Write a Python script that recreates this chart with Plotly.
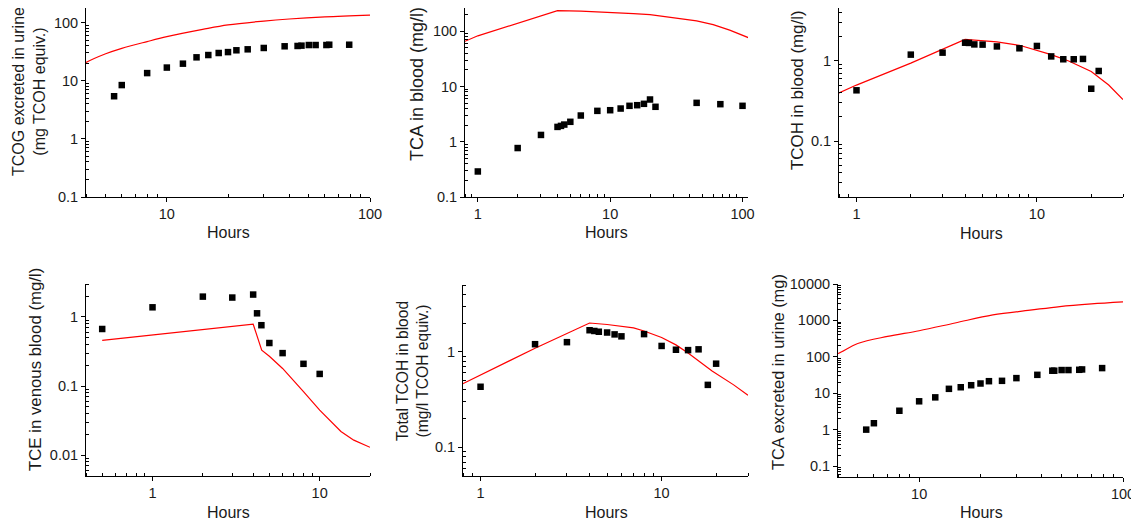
import numpy as np
import plotly.graph_objects as go
from plotly.subplots import make_subplots

# --- measured data (black squares) and model curves (red lines) ---
tcog_t = [5.5, 6, 8, 10, 12, 14, 16, 18, 20, 22, 25, 30, 38, 44, 46, 50, 54, 61, 63, 79]
tcog_obs = [5.4, 8.4, 13.5, 16.8, 19.6, 25.2, 27.6, 29.9, 31, 33.3, 34.6, 36.5, 39, 39.5, 40, 41, 41, 41, 41.5, 41.5]
tcog_mt = [3.5, 4, 5, 6, 8, 10, 15, 20, 30, 40, 60, 100]
tcog_mod = [15, 20.5, 29, 36, 47, 57, 76, 91, 106, 115, 125, 134]

tcab_t = [1, 2, 3, 4, 4.25, 4.5, 5, 6, 8, 10, 12, 14, 16, 18, 20, 22, 45, 68, 100]
tcab_obs = [0.29, 0.77, 1.33, 1.86, 1.94, 2.05, 2.3, 2.99, 3.63, 3.73, 4.0, 4.48, 4.6, 4.87, 5.83, 4.3, 5.07, 4.8, 4.48]
tcab_mt = [0.5, 0.8, 1, 2, 4, 6, 10, 15, 20, 30, 45, 60, 80, 112]
tcab_mod = [45, 66, 83, 140, 237, 232, 221, 210, 200, 178, 155, 132, 105, 76]

tcoh_t = [1, 2, 3, 4, 4.2, 4.5, 5, 6, 8, 10, 12, 14, 16, 18, 20, 22]
tcoh_obs = [0.43, 1.2, 1.27, 1.69, 1.68, 1.61, 1.6, 1.52, 1.44, 1.54, 1.14, 1.05, 1.05, 1.06, 0.45, 0.75]
tcoh_mt = [0.5, 0.8, 1, 2, 4, 6, 8, 10, 12, 15, 20, 25, 30]
tcoh_mod = [0.28, 0.40, 0.50, 0.94, 1.86, 1.73, 1.57, 1.37, 1.2, 1.0, 0.74, 0.5, 0.33]

tce_t = [0.5, 1, 2, 3, 4, 4.22, 4.48, 5, 6, 8, 10]
tce_obs = [0.67, 1.38, 1.97, 1.91, 2.11, 1.13, 0.76, 0.42, 0.30, 0.21, 0.15]
tce_mt = [0.5, 4, 4.5, 5, 6, 7, 8, 10, 12, 13.4, 16, 20]
tce_mod = [0.46, 0.79, 0.33, 0.27, 0.18, 0.12, 0.083, 0.045, 0.029, 0.022, 0.0165, 0.013]

ttcoh_t = [1, 2, 3, 4, 4.25, 4.5, 5, 5.5, 6, 8, 10, 12, 14, 16, 18, 20]
ttcoh_obs = [0.43, 1.2, 1.26, 1.68, 1.65, 1.62, 1.59, 1.52, 1.45, 1.53, 1.15, 1.05, 1.04, 1.06, 0.45, 0.75]
ttcoh_mt = [0.5, 1, 2, 4, 5, 7, 8, 10, 12, 14, 19, 25, 30]
ttcoh_mod = [0.30, 0.57, 1.09, 2.0, 1.93, 1.78, 1.65, 1.41, 1.18, 0.97, 0.63, 0.45, 0.35]

tcau_t = [5.5, 6, 8, 10, 12, 14, 16, 18, 20, 22, 25.5, 30, 38, 45, 46, 50, 54, 61, 63, 79]
tcau_obs = [1.0, 1.5, 3.3, 6.0, 7.7, 13.2, 14.6, 16.6, 18.5, 21.4, 21.9, 26, 32, 41.5, 41.5, 43.3, 43.3, 44, 45, 49]
tcau_mt = [3.5, 4, 5, 7, 10, 15, 23, 35, 49, 70, 100]
tcau_mod = [95, 123, 232, 363, 521, 849, 1415, 1905, 2405, 2852, 3243]

panels = [
    (tcog_t, tcog_obs, tcog_mt, tcog_mod, [4, 100], [0.1, 200], [10, 100], [0.1, 1, 10, 100],
     "TCOG excreted in urine<br>(mg TCOH equiv.)", "spline"),
    (tcab_t, tcab_obs, tcab_mt, tcab_mod, [0.8, 110], [0.1, 300], [1, 10, 100], [0.1, 1, 10, 100],
     "TCA in blood (mg/l)", "linear"),
    (tcoh_t, tcoh_obs, tcoh_mt, tcoh_mod, [0.8, 30], [0.02, 5], [1, 10], [0.1, 1],
     "TCOH in blood (mg/l)", "linear"),
    (tce_t, tce_obs, tce_mt, tce_mod, [0.4, 20], [0.005, 3], [1, 10], [0.01, 0.1, 1],
     "TCE in venous blood (mg/l)", "linear"),
    (ttcoh_t, ttcoh_obs, ttcoh_mt, ttcoh_mod, [0.8, 30], [0.05, 5], [1, 10], [0.1, 1],
     "Total TCOH in blood<br>(mg/l TCOH equiv.)", "linear"),
    (tcau_t, tcau_obs, tcau_mt, tcau_mod, [4, 100], [0.05, 10000], [10, 100], [0.1, 1, 10, 100, 1000, 10000],
     "TCA excreted in urine (mg)", "spline"),
]

# the page body adds an 8px margin, so lay out in page pixels and subtract it
OFF = 8
W, H = 1139 - OFF, 525 - OFF
# pixel boxes of each plot area on the page: (left, right, top, bottom)
boxes = [(86, 370, 5, 197), (465, 748, 5, 197), (839, 1123, 5, 197),
         (86, 370, 284, 476), (463, 748, 285, 476), (838, 1123, 284, 477)]
# axis-title centres on the page: (y-title x, y-title y, Hours x, Hours y)
title_pos = [(29, 92, 228, 232), (417, 84, 606, 232), (797, 90, 981, 233),
             (35, 370, 228, 512), (412, 371, 606, 512), (778, 372, 981, 512)]
title_size = [16, 18, 16.9, 16.8, 15.6, 16.4]

font = "Liberation Sans, Arial, sans-serif"


def minor_vals(lo, hi):
    out = []
    for e in range(int(np.floor(np.log10(lo))) - 1, int(np.ceil(np.log10(hi))) + 1):
        for m in range(2, 10):
            v = m * 10.0 ** e
            if lo <= v <= hi:
                out.append(v)
    return out


def fmt(v):
    return "%g" % v


fig = make_subplots(rows=2, cols=3)
annotations = []
for i, (t, obs, mt, mod, xr, yr, xt, yt, ytitle, shape) in enumerate(panels):
    r, c = i // 3 + 1, i % 3 + 1
    fig.add_trace(go.Scatter(x=mt, y=mod, mode="lines", line=dict(color="#ff0000", width=1.2, shape=shape),
                             showlegend=False), row=r, col=c)
    fig.add_trace(go.Scatter(x=t, y=obs, mode="markers", marker=dict(symbol="square", size=6.5, color="black"),
                             showlegend=False), row=r, col=c)
    l, rr, tp, bt = boxes[i]
    ylo, yhi = np.log10(yr[0]), np.log10(yr[1])
    if tp < OFF:  # trim the part that would sit above the page top
        yhi -= (OFF - tp) * (yhi - ylo) / (bt - tp)
        tp = OFF
    sfx = "" if i == 0 else str(i + 1)
    common = dict(type="log", showline=True, linecolor="black", linewidth=1, showgrid=False, zeroline=False,
                  ticks="outside", ticklen=4, tickcolor="black", automargin=False,
                  tickfont=dict(family=font, size=14.5, color="#1a1a1a"))
    fig.layout["xaxis" + sfx].update(
        domain=[(l - OFF) / W, (rr - OFF) / W], range=[np.log10(xr[0]), np.log10(xr[1])],
        tickvals=xt, ticktext=[fmt(v) for v in xt],
        minor=dict(tickvals=minor_vals(*xr), ticks="inside", ticklen=3, tickcolor="black", showgrid=False),
        **common)
    fig.layout["yaxis" + sfx].update(
        domain=[1 - (bt - OFF) / H, 1 - (tp - OFF) / H], range=[ylo, yhi],
        tickvals=yt, ticktext=[fmt(v) for v in yt],
        minor=dict(tickvals=minor_vals(*yr), ticks="inside", ticklen=3, tickcolor="black", showgrid=False),
        **common)
    yx, yy, hx, hy = title_pos[i]
    annotations.append(dict(text=ytitle, x=(yx - OFF) / W, y=1 - (yy - OFF) / H, xref="paper", yref="paper",
                            textangle=-90, showarrow=False, xanchor="center", yanchor="middle",
                            font=dict(family=font, size=title_size[i], color="#1a1a1a")))
    annotations.append(dict(text="Hours", x=(hx - OFF) / W, y=1 - (hy - OFF) / H, xref="paper", yref="paper",
                            showarrow=False, xanchor="center", yanchor="middle",
                            font=dict(family=font, size=16, color="#1a1a1a")))

fig.update_layout(width=W, height=H, margin=dict(l=0, r=0, t=0, b=0),
                  plot_bgcolor="white", paper_bgcolor="white", template="none",
                  annotations=annotations, font=dict(family=font))
fig.write_html("out.html")
